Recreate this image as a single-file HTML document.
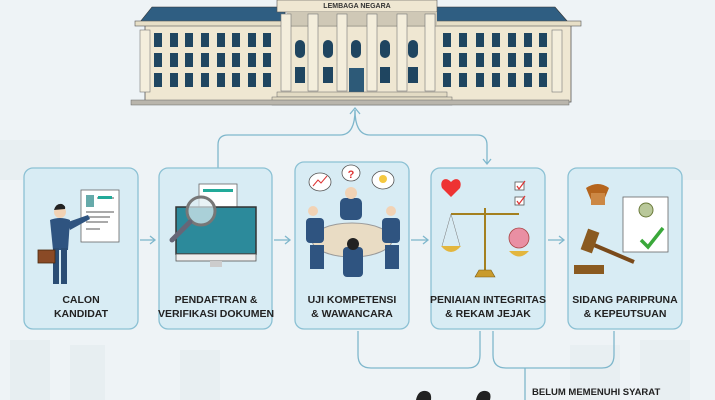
<!DOCTYPE html>
<html><head><meta charset="utf-8"><style>
html,body{margin:0;padding:0;background:#eef3f6;}
svg{display:block}
text{font-family:"Liberation Sans",sans-serif;}
</style></head><body>
<svg width="715" height="400" viewBox="0 0 715 400" xmlns="http://www.w3.org/2000/svg">
<rect width="715" height="400" fill="#eef3f6"/>
<g fill="#e6edf1" opacity="0.8">
<rect x="0" y="140" width="60" height="40"/><rect x="640" y="140" width="75" height="40"/>
<rect x="10" y="340" width="40" height="60"/><rect x="70" y="345" width="35" height="55"/>
<rect x="180" y="350" width="40" height="50"/><rect x="570" y="345" width="50" height="55"/><rect x="640" y="340" width="50" height="60"/>
</g>
<g>
<rect x="145" y="22" width="426" height="80" fill="#efe7d2" stroke="#555" stroke-width="0.8"/>
<polygon points="152,7 285,7 285,22 140,22" fill="#2f5e82" stroke="#333" stroke-width="0.6"/>
<polygon points="435,7 555,7 568,22 435,22" fill="#2f5e82" stroke="#333" stroke-width="0.6"/>
<rect x="135" y="21" width="446" height="5" fill="#e7dfc7" stroke="#555" stroke-width="0.6"/>
<rect x="277" y="0" width="160" height="12" fill="#efe7d2" stroke="#555" stroke-width="0.6"/>
<text x="357" y="8" font-size="7" font-weight="bold" text-anchor="middle" fill="#333">LEMBAGA NEGARA</text>
<rect x="287" y="12" width="150" height="13" fill="#cfc8b6"/>
<g fill="#f4eedc" stroke="#777" stroke-width="0.6">
<rect x="281" y="14" width="10" height="77"/><rect x="308" y="14" width="10" height="77"/><rect x="337" y="14" width="10" height="77"/><rect x="367" y="14" width="10" height="77"/><rect x="397" y="14" width="10" height="77"/><rect x="425" y="14" width="10" height="77"/>
<rect x="140" y="30" width="10" height="62"/><rect x="552" y="30" width="10" height="62"/>
</g>
<g fill="#1f4560">
<g id="w"><rect x="154" y="33" width="8" height="14"/><rect x="154" y="53" width="8" height="14"/><rect x="154" y="73" width="8" height="14"/></g>
<use href="#w" x="16"/><use href="#w" x="31"/><use href="#w" x="47"/><use href="#w" x="63"/><use href="#w" x="78"/><use href="#w" x="94"/><use href="#w" x="109"/>
<use href="#w" x="289"/><use href="#w" x="305"/><use href="#w" x="322"/><use href="#w" x="338"/><use href="#w" x="354"/><use href="#w" x="370"/><use href="#w" x="385"/>
<rect x="295" y="40" width="10" height="18" rx="5"/><rect x="323" y="40" width="10" height="18" rx="5"/><rect x="351" y="40" width="10" height="18" rx="5"/><rect x="380" y="40" width="10" height="18" rx="5"/><rect x="408" y="40" width="10" height="18" rx="5"/>
<rect x="295" y="67" width="10" height="16"/><rect x="323" y="67" width="10" height="16"/><rect x="380" y="67" width="10" height="16"/><rect x="408" y="67" width="10" height="16"/>
<rect x="349" y="68" width="15" height="24" fill="#2d5a78"/>
</g>
<rect x="277" y="92" width="170" height="5" fill="#e3dbc4" stroke="#666" stroke-width="0.5"/>
<rect x="272" y="97" width="180" height="8" fill="#e3dbc4" stroke="#666" stroke-width="0.5"/>
<rect x="131" y="100" width="438" height="5" fill="#b9b5ac" stroke="#666" stroke-width="0.5"/>
</g>
<g fill="none" stroke="#7fb7cc" stroke-width="1.3">
<path d="M218,168 V145 Q218,135 228,135 H340 Q355,135 355,110"/>
<path d="M355,110 Q355,135 370,135 H477 Q487,135 487,145 V163"/>
<path d="M358,331 V355 Q358,368 371,368 H468 Q480,368 480,355 V331"/>
<path d="M493,331 V355 Q493,368 506,368 H602 Q614,368 614,355 V331"/>
<path d="M525,368 V400"/>
<path d="M140,240 H154"/><path d="M274,240 H289"/><path d="M411,240 H427"/><path d="M548,240 H563"/>
</g>
<g fill="none" stroke="#7fb7cc" stroke-width="1.3">
<path d="M350,114 L355,108 L360,114"/><path d="M483,159 L487,164 L491,159"/>
<path d="M150,236 L155,240 L150,244"/><path d="M285,236 L290,240 L285,244"/><path d="M423,236 L428,240 L423,244"/><path d="M559,236 L564,240 L559,244"/>
</g>
<g fill="#d8ecf4" stroke="#8cc1d4" stroke-width="1.3">
<rect x="24" y="168" width="114" height="161" rx="9"/>
<rect x="159" y="168" width="113" height="161" rx="9"/>
<rect x="295" y="162" width="114" height="167" rx="9"/>
<rect x="431" y="168" width="114" height="161" rx="9"/>
<rect x="568" y="168" width="114" height="161" rx="9"/>
</g>
<rect x="81" y="190" width="38" height="52" fill="#fff" stroke="#666" stroke-width="0.8"/>
<rect x="86" y="195" width="8" height="12" fill="#6aa"/>
<g stroke="#555" stroke-width="1"><path d="M97,198 H114 M86,212 H114 M86,217 H110 M86,222 H108 M86,229 H100"/></g>
<rect x="98" y="196" width="14" height="3" fill="#2a9"/>
<circle cx="60" cy="212" r="6" fill="#f2d3b5"/><path d="M54,210 Q56,203 62,204 Q66,206 65,209" fill="#222"/>
<path d="M50,220 Q60,216 70,220 L68,250 H53 Z" fill="#2f5480"/>
<path d="M68,222 L88,215 L90,219 L70,230 Z" fill="#2f5480"/>
<rect x="53" y="248" width="6" height="36" fill="#2b4d74"/><rect x="61" y="248" width="6" height="36" fill="#2b4d74"/>
<rect x="38" y="250" width="17" height="13" fill="#8a4a26" stroke="#4a2a10" stroke-width="0.8"/>
<rect x="199" y="184" width="38" height="50" fill="#fff" stroke="#666" stroke-width="0.8"/>
<rect x="203" y="189" width="30" height="3" fill="#2a9"/>
<rect x="176" y="207" width="80" height="47" fill="#2c8a9b" stroke="#333" stroke-width="1.5"/>
<rect x="176" y="254" width="80" height="7" fill="#eee" stroke="#555" stroke-width="0.8"/>
<rect x="210" y="261" width="12" height="6" fill="#ccc"/>
<circle cx="201" cy="211" r="14" fill="#dfeef2" fill-opacity="0.7" stroke="#777" stroke-width="3"/>
<path d="M190,222 L172,240" stroke="#667" stroke-width="5" stroke-linecap="round"/>
<ellipse cx="352" cy="240" rx="40" ry="17" fill="#e9dcc4" stroke="#999"/>
<g fill="#2f5480"><rect x="340" y="198" width="22" height="22" rx="5"/><rect x="306" y="218" width="18" height="25" rx="4"/><rect x="382" y="218" width="18" height="25" rx="4"/><rect x="343" y="247" width="20" height="30" rx="4"/><rect x="310" y="245" width="14" height="24"/><rect x="385" y="245" width="14" height="24"/></g>
<g fill="#f2d3b5"><circle cx="351" cy="193" r="6"/><circle cx="313" cy="211" r="5"/><circle cx="391" cy="211" r="5"/></g>
<circle cx="353" cy="244" r="6" fill="#222"/>
<g fill="#fff" stroke="#555" stroke-width="0.8"><ellipse cx="320" cy="182" rx="11" ry="9"/><ellipse cx="351" cy="173" rx="9" ry="8"/><ellipse cx="383" cy="180" rx="11" ry="9"/></g>
<text x="351" y="178" font-size="11" font-weight="bold" text-anchor="middle" fill="#d33">?</text>
<path d="M313,186 L318,180 L321,183 L327,176" fill="none" stroke="#d33" stroke-width="1"/>
<circle cx="383" cy="179" r="4" fill="#f5c840"/>
<path d="M451,182 C446,176 439,180 442,188 L451,197 L460,188 C463,180 456,176 451,182Z" fill="#e33"/>
<rect x="515" y="182" width="9" height="8" fill="#fff" stroke="#555" stroke-width="0.8"/><rect x="515" y="197" width="9" height="8" fill="#fff" stroke="#555" stroke-width="0.8"/>
<path d="M517,186 L519,189 L525,181 M517,201 L519,204 L525,196" fill="none" stroke="#d33" stroke-width="1.2"/>
<g stroke="#a4801f" stroke-width="2" fill="none"><path d="M485,208 V276"/><path d="M451,214 H519"/></g>
<path d="M475,277 H495 L491,270 H479 Z" fill="#c99b2c" stroke="#7a5a10" stroke-width="0.6"/>
<path d="M441,246 H461 Q451,258 441,246Z" fill="#e3b63e"/><path d="M509,251 H529 Q519,262 509,251Z" fill="#e3b63e"/>
<path d="M451,214 L442,246 M451,214 L460,246" stroke="#777" stroke-width="0.5"/>
<circle cx="519" cy="238" r="10" fill="#e98fa3" stroke="#a44" stroke-width="0.8"/>
<rect x="623" y="197" width="45" height="55" fill="#fff" stroke="#666" stroke-width="0.8"/>
<circle cx="646" cy="210" r="7" fill="#b9c89a" stroke="#6a7a3a"/>
<path d="M641,240 L648,247 L663,228" fill="none" stroke="#3aa83a" stroke-width="3.5"/>
<path d="M586,188 Q598,180 609,188 L604,200 H591Z" fill="#b5651d"/>
<rect x="591" y="193" width="14" height="12" fill="#c84"/>
<path d="M594,245 L634,262" stroke="#7a4a1a" stroke-width="4"/>
<rect x="584" y="230" width="12" height="22" fill="#8a5a20" transform="rotate(20 590 241)"/>
<rect x="574" y="265" width="30" height="9" fill="#8a5a20"/>
<g font-size="10.5" font-weight="bold" fill="#222" text-anchor="middle">
<text x="81" y="303">CALON</text><text x="81" y="317">KANDIDAT</text>
<text x="216" y="303">PENDAFTRAN &amp;</text><text x="216" y="317">VERIFIKASI DOKUMEN</text>
<text x="352" y="303">UJI KOMPETENSI</text><text x="352" y="317">&amp; WAWANCARA</text>
<text x="488" y="303">PENIAIAN INTEGRITAS</text><text x="488" y="317">&amp; REKAM JEJAK</text>
<text x="625" y="303">SIDANG PARIPRUNA</text><text x="625" y="317">&amp; KEPEUTSUAN</text>
</g>
<text x="532" y="395" font-size="9.5" font-weight="bold" fill="#222">BELUM MEMENUHI SYARAT</text>
<path d="M416,400 Q418,390 426,391 Q432,392 431,400Z" fill="#222"/>
<path d="M476,400 Q478,390 486,391 Q492,392 490,400Z" fill="#222"/>
</svg>
</body></html>
